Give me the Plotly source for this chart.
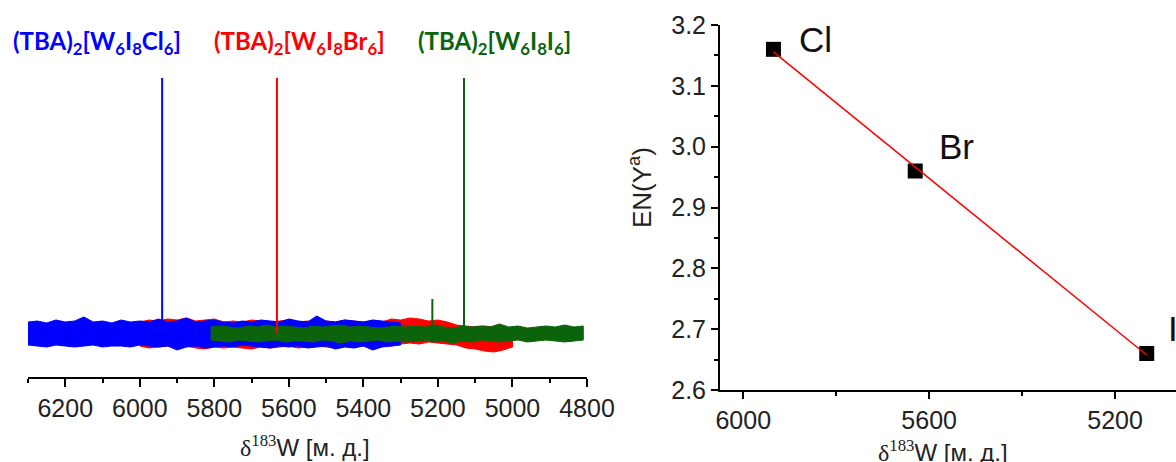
import numpy as np
import plotly.graph_objects as go

W, H = 1176, 462

# ---------- left panel: 183W NMR spectra ----------
peak_pos = [5940, 5632, 5130]          # ppm
peak_height = [25.6, 25.6, 25.6]
small_peak_pos = 5215
small_peak_height = 3.5
compounds = ["(TBA)<sub>2</sub>[W<sub>6</sub>I<sub>8</sub>Cl<sub>6</sub>]",
             "(TBA)<sub>2</sub>[W<sub>6</sub>I<sub>8</sub>Br<sub>6</sub>]",
             "(TBA)<sub>2</sub>[W<sub>6</sub>I<sub>8</sub>I<sub>6</sub>]"]
colors = ["#0000ff", "#ff0000", "#0b640b"]

# noise envelopes (upper / lower), read every 25 ppm
blue_x = np.arange(6300, 5299, -25)
blue_hi = [1.2,1.3,1.1,1.4,1.2,1.3,1.7,1.2,1.3,1.1,1.4,1.2,1.3,1.2,1.5,1.2,1.3,1.6,1.2,1.3,1.4,
           1.2,1.1,1.3,1.2,1.4,1.3,1.2,1.5,1.3,1.2,1.8,1.3,1.2,1.4,1.3,1.2,1.4,1.3,1.2,1.1]
blue_lo = [-1.1,-1.2,-1.3,-1.1,-1.2,-1.3,-1.2,-1.1,-1.3,-1.2,-1.2,-1.3,-1.1,-1.2,-1.3,-1.2,-1.6,
           -1.3,-1.2,-1.4,-1.3,-1.2,-1.3,-1.1,-1.2,-1.3,-1.4,-1.2,-1.3,-1.2,-1.4,-1.3,-1.2,-1.5,
           -1.3,-1.4,-1.2,-1.6,-1.3,-1.2,-1.1]
red_x = np.arange(6000, 4999, -25)
red_hi = [1.2,1.4,1.3,1.5,1.4,1.6,1.3,1.4,1.5,1.2,1.3,1.2,1.4,1.3,1.2,1.3,1.4,1.2,1.3,1.2,1.3,
          1.2,1.4,1.3,1.2,1.3,1.2,1.5,1.4,1.6,1.5,1.3,1.4,1.2,0.9,0.8,0.7,0.8,0.7,0.6,0.5]
red_lo = [-1.2,-1.4,-1.3,-1.2,-1.3,-1.2,-1.4,-1.5,-1.3,-1.4,-1.3,-1.4,-1.5,-1.3,-1.4,-1.3,-1.2,
          -1.4,-1.3,-1.2,-1.3,-1.4,-1.2,-1.3,-1.2,-1.3,-1.1,-1.2,-1.0,-0.9,-1.0,-0.8,-0.9,-1.0,
          -1.1,-1.4,-1.5,-1.7,-1.8,-1.6,-1.3]
green_x = np.arange(5810, 4799, -25)
green_hi = [0.7,0.8,0.7,0.6,0.8,0.7,0.9,0.7,0.8,0.7,0.6,0.8,0.7,0.8,0.9,0.7,0.8,0.7,0.6,0.7,0.8,
            0.7,0.8,0.7,0.9,0.7,0.6,0.8,0.7,0.8,0.7,1.0,0.7,0.8,0.6,0.7,0.8,0.7,0.9,0.7,0.8]
green_lo = [-0.6,-0.7,-0.8,-0.6,-0.7,-0.8,-0.7,-0.6,-0.8,-0.7,-0.7,-0.8,-0.6,-0.7,-0.9,-0.7,-0.8,
            -0.7,-0.6,-0.8,-0.7,-0.8,-0.7,-0.6,-0.8,-0.7,-0.9,-0.7,-0.8,-0.6,-0.7,-0.8,-0.7,-0.6,
            -0.8,-0.7,-0.6,-0.7,-0.8,-0.7,-0.6]

left_ticks = [6200, 6000, 5800, 5600, 5400, 5200, 5000, 4800]

# ---------- right panel: correlation ----------
halogens = ["Cl", "Br", "I"]
shift = [5935, 5630, 5132]
en = [3.16, 2.96, 2.66]
right_xticks = [6000, 5600, 5200]
right_yticks = [2.6, 2.7, 2.8, 2.9, 3.0, 3.1, 3.2]


def px(x):
    return x / W


def py(y):
    return 1 - y / H


fig = go.Figure()

# noise bands: red, blue, green
for xs, hi, lo, col in [(red_x, red_hi, red_lo, colors[1]),
                        (blue_x, blue_hi, blue_lo, colors[0]),
                        (green_x, green_hi, green_lo, colors[2])]:
    xs = list(xs)
    fig.add_trace(go.Scatter(x=xs + xs[::-1], y=list(hi) + list(lo)[::-1],
                             fill="toself", fillcolor=col, mode="lines",
                             line=dict(color=col, width=1), xaxis="x", yaxis="y",
                             hoverinfo="skip", showlegend=False))

for p, h, col in zip(peak_pos, peak_height, colors):
    fig.add_trace(go.Scatter(x=[p, p], y=[0, h], mode="lines",
                             line=dict(color=col, width=2), xaxis="x", yaxis="y",
                             showlegend=False))
fig.add_trace(go.Scatter(x=[small_peak_pos, small_peak_pos], y=[0, small_peak_height],
                         mode="lines", line=dict(color=colors[2], width=2),
                         xaxis="x", yaxis="y", showlegend=False))

# right panel
k, b = np.polyfit(shift, en, 1)
fit_x = [shift[0], shift[-1]]
fig.add_trace(go.Scatter(x=shift, y=en, mode="markers",
                         marker=dict(symbol="square", size=15, color="black"),
                         xaxis="x2", yaxis="y2", showlegend=False))
fig.add_trace(go.Scatter(x=fit_x, y=[k * v + b for v in fit_x], mode="lines",
                         line=dict(color="#ff0000", width=1.5),
                         xaxis="x2", yaxis="y2", showlegend=False))

tickfont = dict(family="Liberation Sans, Arial", size=25, color="#222")
fig.update_layout(
    width=W, height=H,
    margin=dict(l=0, r=0, t=0, b=0, pad=0, autoexpand=False),
    paper_bgcolor="white", plot_bgcolor="white", showlegend=False,
    xaxis=dict(domain=[px(28), px(587)], range=[6300, 4800], anchor="y",
               automargin=False,
               showline=True, linecolor="black", linewidth=2, showgrid=False,
               zeroline=False, ticks="outside", ticklen=8, tickwidth=2,
               tickcolor="black", tickvals=left_ticks, tickfont=tickfont,
               minor=dict(dtick=100, ticks="outside", ticklen=4, tickwidth=2,
                          tickcolor="black", showgrid=False)),
    yaxis=dict(domain=[py(377), py(20)], range=[-4.3, 31.4], visible=False,
               automargin=False),
    xaxis2=dict(domain=[px(720), 1.0], range=[6050, 5069], anchor="y2",
                automargin=False,
                showline=True, linecolor="black", linewidth=2, showgrid=False,
                zeroline=False, ticks="outside", ticklen=7, tickwidth=2,
                tickcolor="black", tickvals=right_xticks, tickfont=tickfont,
                minor=dict(tickvals=[5800, 5400], ticks="outside", ticklen=4,
                           tickwidth=2, tickcolor="black", showgrid=False)),
    yaxis2=dict(domain=[py(390), py(25)], range=[2.6, 3.2], anchor="x2",
                automargin=False,
                showline=True, linecolor="black", linewidth=2, showgrid=False,
                zeroline=False, ticks="outside", ticklen=7, tickwidth=2,
                tickcolor="black", tickvals=right_yticks, tickformat=".1f",
                tickfont=tickfont,
                minor=dict(dtick=0.05, ticks="outside", ticklen=4, tickwidth=2,
                           tickcolor="black", showgrid=False)),
)

ann = []
label_x = [97, 299, 494]
for t, col, lx in zip(compounds, colors, label_x):
    ann.append(dict(text="<b>" + t + "</b>", x=px(lx), y=py(42), xref="paper", yref="paper",
                    showarrow=False, xanchor="center", yanchor="middle",
                    font=dict(family="Lato, Open Sans", size=24, color=col)))

title = ('<span style="font-family:Liberation Serif, Times New Roman">δ<sup>183</sup></span>'
         'W [м. д.]')
ann.append(dict(text=title, x=px(305), y=py(446), xref="paper", yref="paper",
                showarrow=False, xanchor="center", yanchor="middle",
                font=dict(family="Liberation Sans, Arial", size=24, color="#222")))
ann.append(dict(text=title, x=px(943), y=py(451), xref="paper", yref="paper",
                showarrow=False, xanchor="center", yanchor="middle",
                font=dict(family="Liberation Sans, Arial", size=24, color="#222")))
ann.append(dict(text="EN(Y<sup>a</sup>)", x=px(640), y=py(188), xref="paper", yref="paper",
                showarrow=False, xanchor="center", yanchor="middle", textangle=-90,
                font=dict(family="Liberation Sans, Arial", size=26, color="#222")))

hal_pos = [(815, 40, "center"), (956, 147, "center"), (1166, 328, "left")]
for h, (hx, hy, anc) in zip(halogens, hal_pos):
    ann.append(dict(text=h, x=px(hx), y=py(hy), xref="paper", yref="paper",
                    showarrow=False, xanchor=anc, yanchor="middle",
                    font=dict(family="Liberation Sans, Arial", size=35, color="#111")))

fig.update_layout(annotations=ann)
fig.write_html("out.html",
               config={"displayModeBar": False},
               post_script="document.body.style.margin='0px';"
                           "document.body.style.overflow='hidden';")
